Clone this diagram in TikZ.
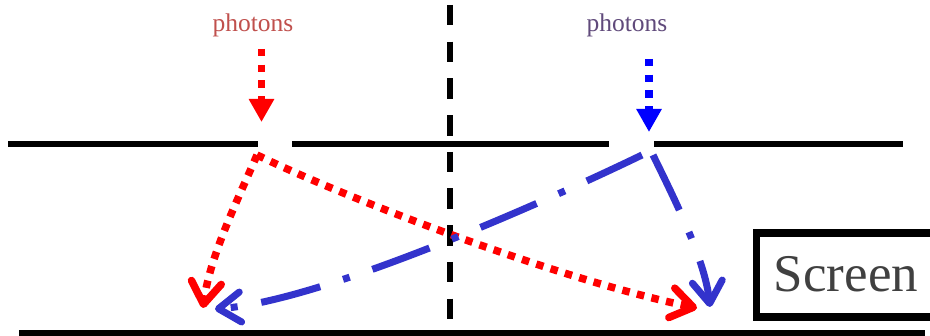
\documentclass[tikz,border=0pt]{standalone}
\usepackage{fontspec}
\setmainfont{Liberation Serif}
\usetikzlibrary{arrows.meta}
\definecolor{redtxt}{HTML}{C0504D}
\definecolor{purtxt}{HTML}{604A7B}
\definecolor{lineblue}{HTML}{3333CC}
\definecolor{scrtxt}{HTML}{404040}
\begin{document}
\begin{tikzpicture}[x=1pt,y=-1pt,
  wall/.style={line width=6pt},
  centreline/.style={line width=5.5pt, dash pattern=on 20.5pt off 16.2pt},
  incoming/.style={line width=7.5pt, dash pattern=on 7.5pt off 8.2pt, -{Triangle[length=23pt,width=24pt]}},
  reddots/.style={red, line width=7.5pt, dash pattern=on 7.5pt off 7.5pt, -{Straight Barb[length=22pt,width=30pt,round]}},
  bluedashdot/.style={lineblue, line width=7pt, dash pattern=on 61pt off 24pt on 7pt off 24pt, -{Straight Barb[length=22pt,width=30pt,round]}},
  phlabel/.style={anchor=base, font=\fontsize{25.5}{28}\selectfont, inner sep=0pt},
  screenbox/.style={draw, line width=7.5pt, minimum width=190pt, minimum height=84pt, anchor=north west, inner sep=0pt, outer sep=0pt},
]
\clip (0,0) rectangle (930,336);
% barrier with two slits
\coordinate (w1a) at (8,144);   \coordinate (w1b) at (258,144);
\coordinate (w2a) at (292,144); \coordinate (w2b) at (609,144);
\coordinate (w3a) at (654,144); \coordinate (w3b) at (903,144);
\draw[wall] (w1a) -- (w1b);
\draw[wall] (w2a) -- (w2b);
\draw[wall] (w3a) -- (w3b);
% screen floor
\coordinate (fa) at (19,333); \coordinate (fb) at (925,333);
\draw[wall] (fa) -- (fb);
% centre dashed line
\coordinate (ca) at (450,5); \coordinate (cb) at (450,319.5);
\draw[centreline] (ca) -- (cb);
% labels
\node[phlabel, text=redtxt] (phL) at (253,32) {photons};
\node[phlabel, text=purtxt] (phR) at (627,32) {photons};
% incoming arrows
\coordinate (inLa) at (261.5,49); \coordinate (inLb) at (261.5,122);
\coordinate (inRa) at (649,59);   \coordinate (inRb) at (649,132);
\draw[incoming, red] (inLa) -- (inLb);
\draw[incoming, blue] (inRa) -- (inRb);
% paths after slits
\coordinate (sL) at (257,155);
\coordinate (sRa) at (642,155);
\coordinate (sRb) at (653,155);
\coordinate (eRedL) at (203,308);
\coordinate (eRedR) at (697,308);
\coordinate (eBlueL) at (215,309);
\coordinate (eBlueR) at (710,307);
\draw[reddots] (sL) .. controls (240,195) and (210,255) .. (eRedL);
\draw[reddots] (sL) .. controls (350,200) and (560,280) .. (eRedR);
\draw[bluedashdot] (sRa) .. controls (570,190) and (330,300) .. (eBlueL);
\draw[bluedashdot] (sRb) .. controls (675,200) and (705,260) .. (eBlueR);
% screen label
\node[screenbox] (scr) at (756.5,233) {};
\node[anchor=base, text=scrtxt, font=\fontsize{53}{60}\selectfont, inner sep=0pt] (scrtext) at (846,292) {Screen};
\end{tikzpicture}
\end{document}
